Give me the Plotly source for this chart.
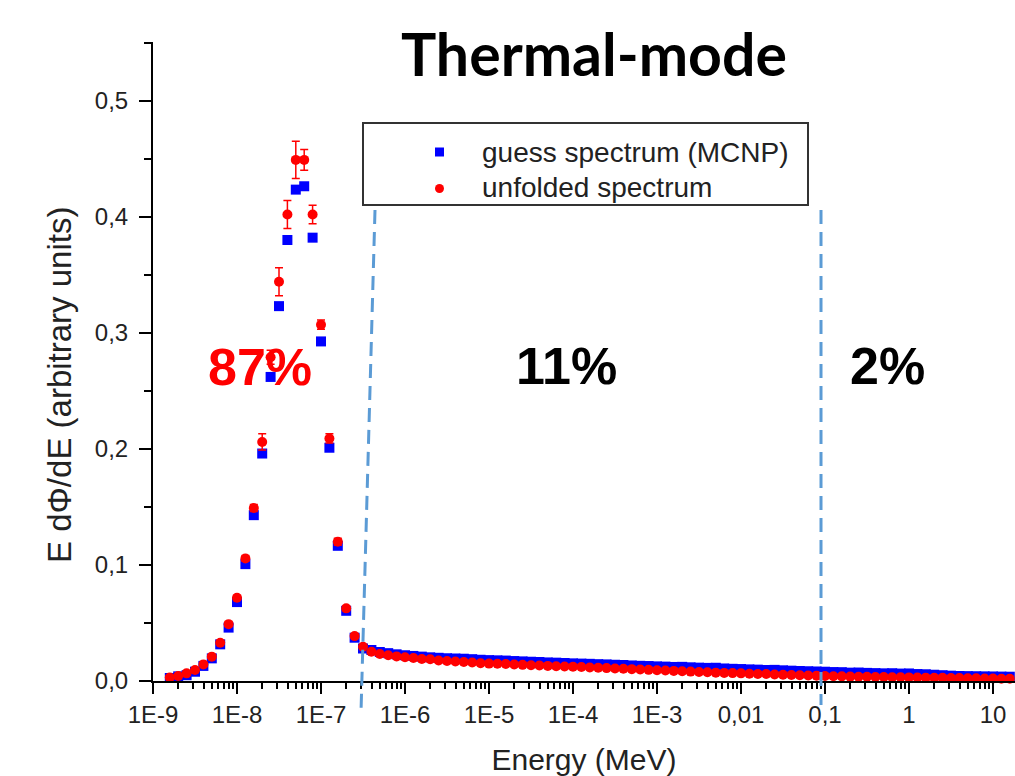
import plotly.graph_objects as go

# ---------------- data ----------------
log_energy = [
    -8.8, -8.7, -8.6, -8.5, -8.4, -8.3, -8.2, -8.1, -8.0,
    -7.9, -7.8, -7.7, -7.6, -7.5, -7.4, -7.3, -7.2, -7.1, -7.0,
    -6.9, -6.8, -6.7, -6.6, -6.5, -6.4, -6.3, -6.2, -6.1, -6.0,
    -5.9, -5.8, -5.7, -5.6, -5.5, -5.4, -5.3, -5.2, -5.1, -5.0,
    -4.9, -4.8, -4.7, -4.6, -4.5, -4.4, -4.3, -4.2, -4.1, -4.0,
    -3.9, -3.8, -3.7, -3.6, -3.5, -3.4, -3.3, -3.2, -3.1, -3.0,
    -2.9, -2.8, -2.7, -2.6, -2.5, -2.4, -2.3, -2.2, -2.1, -2.0,
    -1.9, -1.8, -1.7, -1.6, -1.5, -1.4, -1.3, -1.2, -1.1, -1.0,
    -0.9, -0.8, -0.7, -0.6, -0.5, -0.4, -0.3, -0.2, -0.1, 0.0,
    0.1, 0.2, 0.3, 0.4, 0.5, 0.6, 0.7, 0.8, 0.9, 1.0,
    1.1, 1.2,
]

guess_mcnp = [
    0.0026, 0.0040, 0.0050, 0.0080, 0.0130, 0.0195, 0.0316, 0.0460, 0.0680,
    0.1007, 0.1429, 0.1960, 0.2620, 0.3230, 0.3800, 0.4234, 0.4263, 0.3820, 0.2926,
    0.2010, 0.1165, 0.0605, 0.0373, 0.0280, 0.0267, 0.0250, 0.0240, 0.0230, 0.0222,
    0.0216, 0.0210, 0.0204, 0.0200, 0.0196, 0.0194, 0.0192, 0.0188, 0.0183, 0.0180,
    0.0178, 0.0176, 0.0172, 0.0169, 0.0166, 0.0164, 0.0160, 0.0158, 0.0155, 0.0152,
    0.0150, 0.0148, 0.0145, 0.0143, 0.0140, 0.0138, 0.0134, 0.0131, 0.0129, 0.0126,
    0.0124, 0.0121, 0.0122, 0.0118, 0.0115, 0.0113, 0.0114, 0.0108, 0.0105, 0.0103,
    0.0100, 0.0098, 0.0095, 0.0096, 0.0092, 0.0089, 0.0086, 0.0084, 0.0082, 0.0080,
    0.0077, 0.0076, 0.0072, 0.0073, 0.0070, 0.0068, 0.0066, 0.0067, 0.0064, 0.0065,
    0.0060, 0.0058, 0.0054, 0.0050, 0.0046, 0.0043, 0.0042, 0.0041, 0.0040, 0.0039,
    0.0038, 0.0037,
]

unfolded = [
    0.0030, 0.0043, 0.0066, 0.0095, 0.0143, 0.0210, 0.0330, 0.0490, 0.0717,
    0.1056, 0.1490, 0.2060, 0.2790, 0.3440, 0.4020, 0.4490, 0.4490, 0.4020, 0.3070,
    0.2090, 0.1200, 0.0626, 0.0387, 0.0295, 0.0252, 0.0232, 0.0222, 0.0212, 0.0205,
    0.0198, 0.0190, 0.0188, 0.0176, 0.0172, 0.0168, 0.0163, 0.0160, 0.0153, 0.0150,
    0.0148, 0.0146, 0.0142, 0.0139, 0.0136, 0.0133, 0.0130, 0.0127, 0.0125, 0.0123,
    0.0120, 0.0117, 0.0114, 0.0111, 0.0108, 0.0105, 0.0102, 0.0099, 0.0096, 0.0093,
    0.0090, 0.0087, 0.0084, 0.0081, 0.0078, 0.0075, 0.0072, 0.0070, 0.0068, 0.0066,
    0.0063, 0.0061, 0.0060, 0.0056, 0.0054, 0.0052, 0.0050, 0.0048, 0.0046, 0.0043,
    0.0041, 0.0040, 0.0038, 0.0037, 0.0036, 0.0035, 0.0034, 0.0033, 0.0032, 0.0031,
    0.0030, 0.0029, 0.0028, 0.0027, 0.0026, 0.0025, 0.0024, 0.0023, 0.0022, 0.0021,
    0.0020, 0.0020,
]

unfolded_err = [
    0.0008, 0.0008, 0.0008, 0.0009, 0.0010, 0.0012, 0.0015, 0.0018, 0.0020,
    0.0025, 0.0030, 0.0070, 0.0060, 0.0120, 0.0120, 0.0160, 0.0090, 0.0080, 0.0040,
    0.0040, 0.0030, 0.0020, 0.0015, 0.0012, 0.0010, 0.0009, 0.0009, 0.0009, 0.0008,
    0.0008, 0.0008, 0.0008, 0.0008, 0.0008, 0.0008, 0.0008, 0.0008, 0.0008, 0.0008,
    0.0008, 0.0008, 0.0008, 0.0008, 0.0008, 0.0008, 0.0008, 0.0008, 0.0008, 0.0008,
    0.0007, 0.0007, 0.0007, 0.0007, 0.0007, 0.0007, 0.0007, 0.0007, 0.0007, 0.0007,
    0.0007, 0.0007, 0.0007, 0.0007, 0.0007, 0.0007, 0.0007, 0.0007, 0.0007, 0.0007,
    0.0006, 0.0006, 0.0006, 0.0006, 0.0006, 0.0006, 0.0006, 0.0006, 0.0006, 0.0006,
    0.0006, 0.0006, 0.0006, 0.0006, 0.0006, 0.0006, 0.0006, 0.0006, 0.0006, 0.0006,
    0.0005, 0.0005, 0.0005, 0.0005, 0.0005, 0.0005, 0.0005, 0.0005, 0.0005, 0.0005,
    0.0005, 0.0005,
]

x_tickvals = [1e-9, 1e-8, 1e-7, 1e-6, 1e-5, 1e-4, 1e-3, 1e-2, 1e-1, 1, 10]
x_ticktext = ["1E-9", "1E-8", "1E-7", "1E-6", "1E-5", "1E-4", "1E-3",
              "0,01", "0,1", "1", "10"]

region_labels = ["87%", "11%", "2%"]
region_colors = ["#FF0000", "#000000", "#000000"]

series_names = ["guess spectrum (MCNP)", "unfolded spectrum"]
series_colors = ["#0000FF", "#FF0000"]

energy = [10 ** v for v in log_energy]

# minor tick positions (2..9 within each decade)
minor_vals = [m * 10.0 ** d for d in range(-9, 2) for m in range(2, 10)]

# ---------------- figure ----------------
W, H = 1015, 776
L, R, T, B = 153, 0, 42, 95
pw, ph = W - L - R, H - T - B


def px(x):
    return (x - L) / pw


def py(y):
    return (H - B - y) / ph


fig = go.Figure()

fig.add_trace(go.Scatter(
    x=energy, y=guess_mcnp, mode="markers", name=series_names[0],
    marker=dict(symbol="square", size=10, color=series_colors[0]),
    cliponaxis=False, showlegend=False,
))
fig.add_trace(go.Scatter(
    x=energy, y=unfolded, mode="markers", name=series_names[1],
    marker=dict(symbol="circle", size=10, color=series_colors[1]),
    error_y=dict(type="data", array=unfolded_err, color=series_colors[1],
                 thickness=1.5, width=4),
    cliponaxis=False, showlegend=False,
))

tickfont = dict(family="Liberation Sans", size=24, color="#222222")
titlefont = dict(family="Liberation Sans", size=30, color="#222222")

fig.update_layout(
    width=W, height=H,
    margin=dict(l=L, r=R, t=T, b=B, pad=0),
    paper_bgcolor="white", plot_bgcolor="white",
    separators=",.",
    showlegend=False,
    xaxis=dict(
        type="log", range=[-9, -9 + pw / 84.0],
        tickmode="array", tickvals=x_tickvals, ticktext=x_ticktext,
        ticks="outside", ticklen=11, tickwidth=2, tickcolor="black",
        showline=True, linewidth=2, linecolor="black",
        showgrid=False, zeroline=False,
        tickfont=tickfont,
        minor=dict(tickmode="array", tickvals=minor_vals, ticks="outside",
                   ticklen=6, tickwidth=1.5, tickcolor="black", showgrid=False),
        title=dict(text="Energy (MeV)", font=titlefont, standoff=24),
    ),
    yaxis=dict(
        range=[0, 0.5506], dtick=0.1, tick0=0, tickformat=".1f",
        ticks="outside", ticklen=12, tickwidth=2, tickcolor="black",
        showline=True, linewidth=2, linecolor="black",
        showgrid=False, zeroline=False,
        tickfont=tickfont, ticklabelstandoff=6,
        minor=dict(dtick=0.05, ticks="outside", ticklen=7, tickwidth=1.5,
                   tickcolor="black", showgrid=False),
    ),
)

# y axis title (placed like the reference, slightly below plot centre)
fig.add_annotation(xref="paper", yref="paper", x=px(59), y=py(385),
                   text="E dΦ/dE (arbitrary units)", showarrow=False,
                   textangle=-90, xanchor="center", yanchor="middle",
                   font=dict(family="Liberation Sans", size=33, color="#222222"))

# legend frame + entries
fig.add_shape(type="rect", xref="paper", yref="paper",
              x0=px(363), x1=px(808), y0=py(205), y1=py(123),
              line=dict(color="#333333", width=2), fillcolor="rgba(0,0,0,0)")
fig.add_shape(type="rect", xref="paper", yref="paper",
              x0=px(435), x1=px(444), y0=py(156.5), y1=py(147.5),
              line=dict(width=0), fillcolor=series_colors[0])
fig.add_shape(type="circle", xref="paper", yref="paper",
              x0=px(435), x1=px(444), y0=py(193), y1=py(184),
              line=dict(width=0), fillcolor=series_colors[1])
for name, ly in zip(series_names, [152, 188]):
    fig.add_annotation(xref="paper", yref="paper", x=px(480), y=py(ly),
                       text=name, showarrow=False,
                       xanchor="left", yanchor="middle",
                       font=dict(family="Liberation Sans", size=28, color="#222222"))

# dashed region dividers
dash_style = dict(color="#5B9BD5", width=3, dash="14px,8px")
fig.add_shape(type="line", xref="paper", yref="paper",
              x0=px(375), y0=py(210), x1=px(361), y1=py(712), line=dash_style)
fig.add_shape(type="line", xref="paper", yref="paper",
              x0=px(821), y0=py(210), x1=px(821), y1=py(705), line=dash_style)

# title
fig.add_annotation(xref="paper", yref="paper", x=px(594), y=py(53),
                   text="Thermal-mode", showarrow=False,
                   xanchor="center", yanchor="middle",
                   font=dict(family="Lato", size=59, color="black", weight="bold"))

# region percentages
label_pos = [(260, 367), (566, 366), (887, 366)]
for txt, col, (lx, ly) in zip(region_labels, region_colors, label_pos):
    fig.add_annotation(xref="paper", yref="paper", x=px(lx), y=py(ly),
                       text=txt, showarrow=False,
                       xanchor="center", yanchor="middle",
                       font=dict(family="Liberation Sans", size=52, color=col,
                                 weight="bold"))

fig.write_html(
    "out.html",
    config={"displayModeBar": False},
    post_script="document.body.style.margin='0px';"
                "document.body.style.overflow='hidden';",
)
